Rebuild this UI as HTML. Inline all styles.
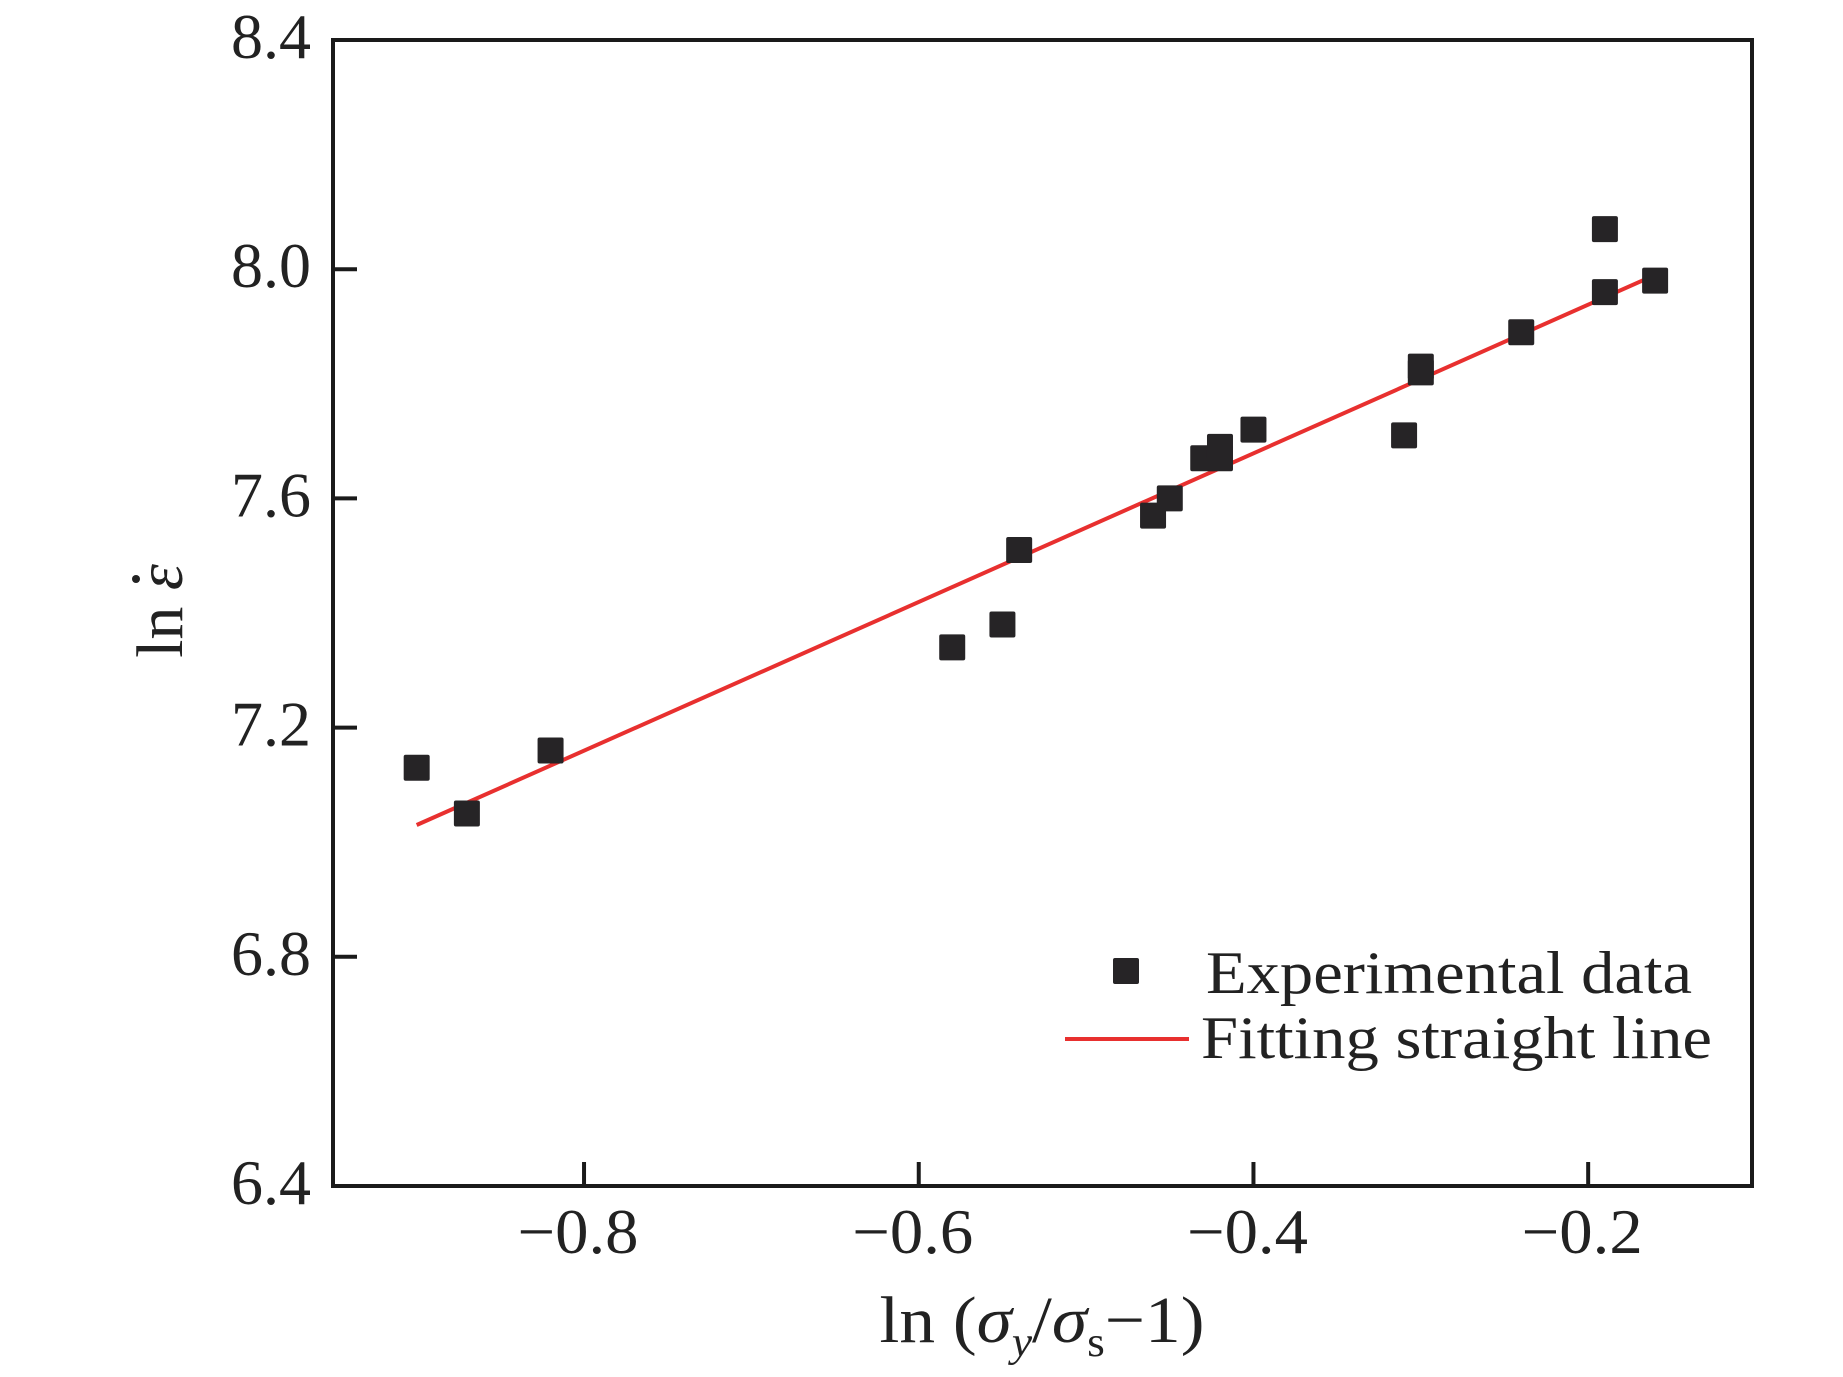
<!DOCTYPE html>
<html><head><meta charset="utf-8"><style>
html,body{margin:0;padding:0;background:#fff;}
svg{display:block;font-family:"Liberation Serif",serif;}
</style></head><body>
<svg id="chart" width="1843" height="1377" viewBox="0 0 1843 1377" xmlns="http://www.w3.org/2000/svg">
<rect x="333" y="40" width="1419" height="1146" fill="none" stroke="#1a1a1a" stroke-width="4"/>
<g id="ticks"></g>
<g id="marks"></g>
<text x="1042" y="1342" font-size="66" text-anchor="middle" fill="#222" textLength="325" lengthAdjust="spacingAndGlyphs">ln (<tspan font-style="italic">σ</tspan><tspan font-style="italic" font-size="42" dy="14">y</tspan><tspan dy="-14">/</tspan><tspan font-style="italic">σ</tspan><tspan font-size="42" dy="14">s</tspan><tspan dy="-14">−1)</tspan></text>
<g transform="translate(182,611) rotate(-90)">
<text x="0" y="0" font-size="66" text-anchor="middle" fill="#222">ln <tspan font-style="italic">ε</tspan></text>
<circle cx="32" cy="-46" r="4" fill="#222"/>
</g>
<g>
<rect x="1113" y="958" width="26" height="26" rx="2" fill="#262426"/>
<text x="1206" y="993" font-size="60" fill="#222" textLength="486" lengthAdjust="spacingAndGlyphs">Experimental data</text>
<line x1="1065" y1="1039" x2="1189" y2="1039" stroke="#e8302f" stroke-width="4"/>
<text x="1201" y="1058" font-size="60" fill="#222" textLength="511" lengthAdjust="spacingAndGlyphs">Fitting straight line</text>
</g>
</svg>
<script>
const xTicks=[-0.8,-0.6,-0.4,-0.2];
const xTickLabels=["−0.8","−0.6","−0.4","−0.2"];
const yTicks=[6.4,6.8,7.2,7.6,8.0,8.4];
const yTickLabels=["6.4","6.8","7.2","7.6","8.0","8.4"];
const dataX=[-0.9,-0.87,-0.82,-0.58,-0.55,-0.54,-0.46,-0.45,-0.43,-0.42,-0.42,-0.40,-0.31,-0.30,-0.30,-0.24,-0.19,-0.19,-0.16];
const dataY=[7.13,7.05,7.16,7.34,7.38,7.51,7.57,7.60,7.67,7.69,7.67,7.72,7.71,7.83,7.82,7.89,8.07,7.96,7.98];
const fitX=[-0.9,-0.16];
const fitY=[7.03,7.99];
const X0=333,X1=1748,Y0=40,Y1=1186,XMIN=-0.95,XMAX=-0.1045,YMIN=6.4,YMAX=8.4;
function sx(v){return X0+(v-XMIN)/(XMAX-XMIN)*(X1-X0);}
function sy(v){return Y1-(v-YMIN)/(YMAX-YMIN)*(Y1-Y0);}
const NS="http://www.w3.org/2000/svg";
const ticks=document.getElementById('ticks'),marks=document.getElementById('marks');
function mk(tag,attrs,parent){const e=document.createElementNS(NS,tag);for(const k in attrs)e.setAttribute(k,attrs[k]);parent.appendChild(e);return e;}
xTicks.forEach((v,i)=>{
 const l=mk('line',{x1:sx(v),x2:sx(v),y1:Y1,y2:Y1-24,stroke:'#1a1a1a','stroke-width':4},ticks);
 
 
 const t=mk('text',{x:sx(v)-6,y:1253,'font-size':64,'text-anchor':'middle',fill:'#222',textLength:121,lengthAdjust:'spacingAndGlyphs'},ticks);
 t.textContent=xTickLabels[i];
 
 
});
yTicks.forEach((v,i)=>{
 const l=mk('line',{x1:X0,x2:X0+24,y1:sy(v),y2:sy(v),stroke:'#1a1a1a','stroke-width':4},ticks);
 
 
 const t=mk('text',{x:311,y:sy(v)+18,'font-size':64,'text-anchor':'end',fill:'#222',textLength:80,lengthAdjust:'spacingAndGlyphs'},ticks);
 t.textContent=yTickLabels[i];
 
 
});
const fl=mk('line',{x1:sx(fitX[0]),y1:sy(fitY[0]),x2:sx(fitX[1]),y2:sy(fitY[1]),stroke:'#e8302f','stroke-width':4},marks);


dataX.forEach((v,i)=>{
 const r=mk('rect',{x:sx(v)-13,y:sy(dataY[i])-13,width:26,height:26,rx:2,fill:'#262426'},marks);
 
 
});
</script>
</body></html>
